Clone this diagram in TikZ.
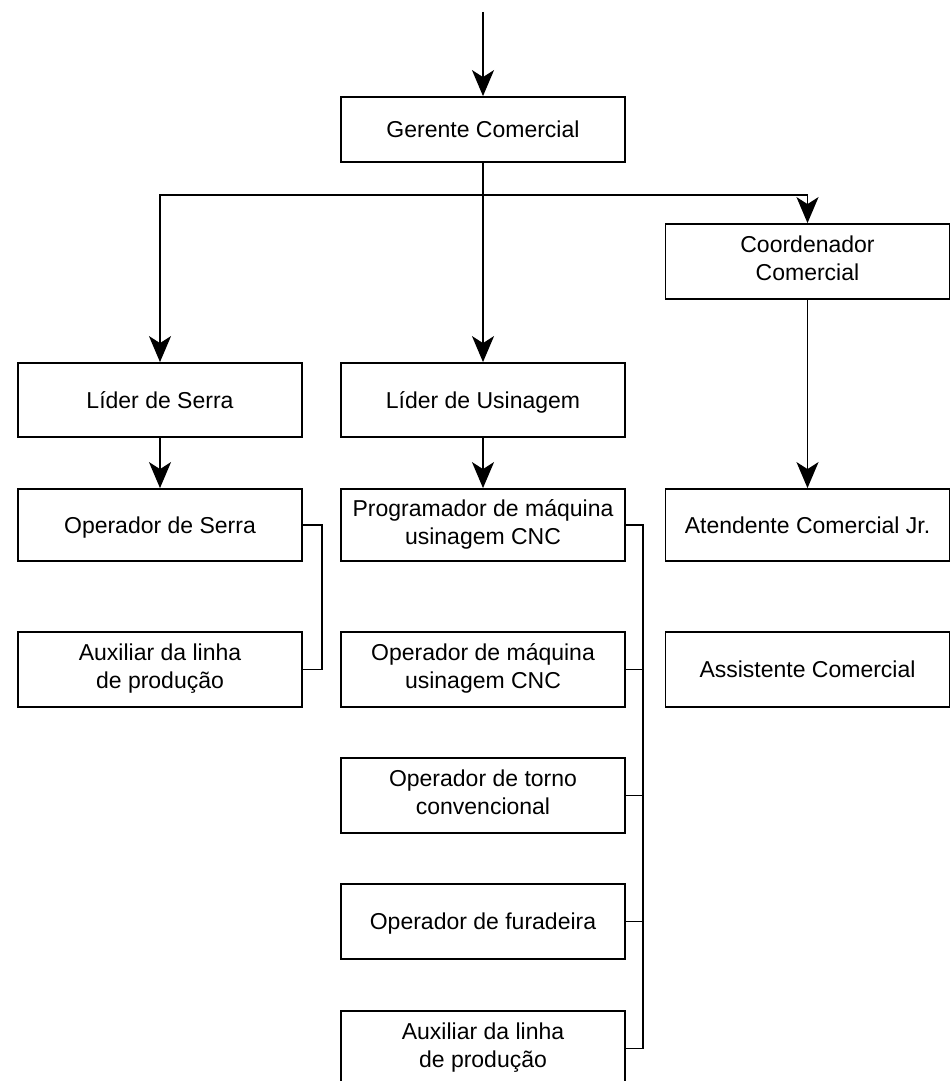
\documentclass[tikz,border=0pt]{standalone}
\usepackage{fontspec}
\setmainfont{Liberation Sans}
\usetikzlibrary{arrows.meta}

% invisible rule that gives every line of a label the same height and depth
\newcommand\rolestrut{\rule[-6pt]{0pt}{28.5pt}}

\begin{document}
\begin{tikzpicture}[x=1pt,y=-1pt,
  role/.style={draw, line width=1.8pt, minimum width=284pt, minimum height=75pt,
    inner sep=2pt, align=center, font=\fontsize{23}{28}\selectfont,
    execute at begin node=\rolestrut, execute at end node=\rolestrut},
  link/.style={line width=1.8pt},
  arr/.style={link, -{Stealth[length=26pt, width=22pt, inset=7pt]}}
]
\useasboundingbox (0,0) rectangle (950,1081);
\clip (0,0) rectangle (950,1081);

% management
\node[role, minimum height=65pt] (ger) at (483,129.5) {Gerente Comercial};
\node[role] (coord) at (807.5,261.5) {Coordenador\\Comercial};

% leaders
\node[role, minimum height=74pt] (lserra) at (160,400) {Líder de Serra};
\node[role, minimum height=74pt] (lusin) at (483,400) {Líder de Usinagem};

% second row
\node[role, minimum height=72pt] (opserra) at (160,525) {Operador de Serra};
\node[role, minimum height=72pt] (prog) at (483,525) {Programador de máquina\\usinagem CNC};
\node[role, minimum height=72pt] (atend) at (807.5,525) {Atendente Comercial Jr.};

% third row
\node[role] (auxserra) at (160,669.5) {Auxiliar da linha\\de produção};
\node[role] (opcnc) at (483,669.5) {Operador de máquina\\usinagem CNC};
\node[role] (assist) at (807.5,669.5) {Assistente Comercial};

% machining staff
\node[role] (torno) at (483,795.5) {Operador de torno\\convencional};
\node[role] (fura) at (483,921.5) {Operador de furadeira};
\node[role] (auxusin) at (483,1048.5) {Auxiliar da linha\\de produção};

% incoming link from above
\coordinate (entry) at (483,12);
\draw[arr] (entry) -- (ger.north);

% split below the manager
\coordinate (split) at (483,195);
\draw[arr] (ger) -- (lusin);
\draw[arr] (split) -| (lserra.north);
\draw[arr] (split) -| (coord.north);

% leaders to their teams
\draw[arr] (lserra) -- (opserra);
\draw[arr] (lusin) -- (prog);
\draw[arr] (coord) -- (atend);

% saw team bracket
\coordinate (sbus) at (322,0);
\draw[link] (opserra.east) -- (sbus |- opserra.east) -- (sbus |- auxserra.east) -- (auxserra.east);

% machining team bracket
\coordinate (ubus) at (643,0);
\draw[link] (prog.east) -- (ubus |- prog.east) -- (ubus |- auxusin.east) -- (auxusin.east);
\draw[link] (opcnc.east) -- (ubus |- opcnc.east);
\draw[link] (torno.east) -- (ubus |- torno.east);
\draw[link] (fura.east) -- (ubus |- fura.east);
\end{tikzpicture}
\end{document}
